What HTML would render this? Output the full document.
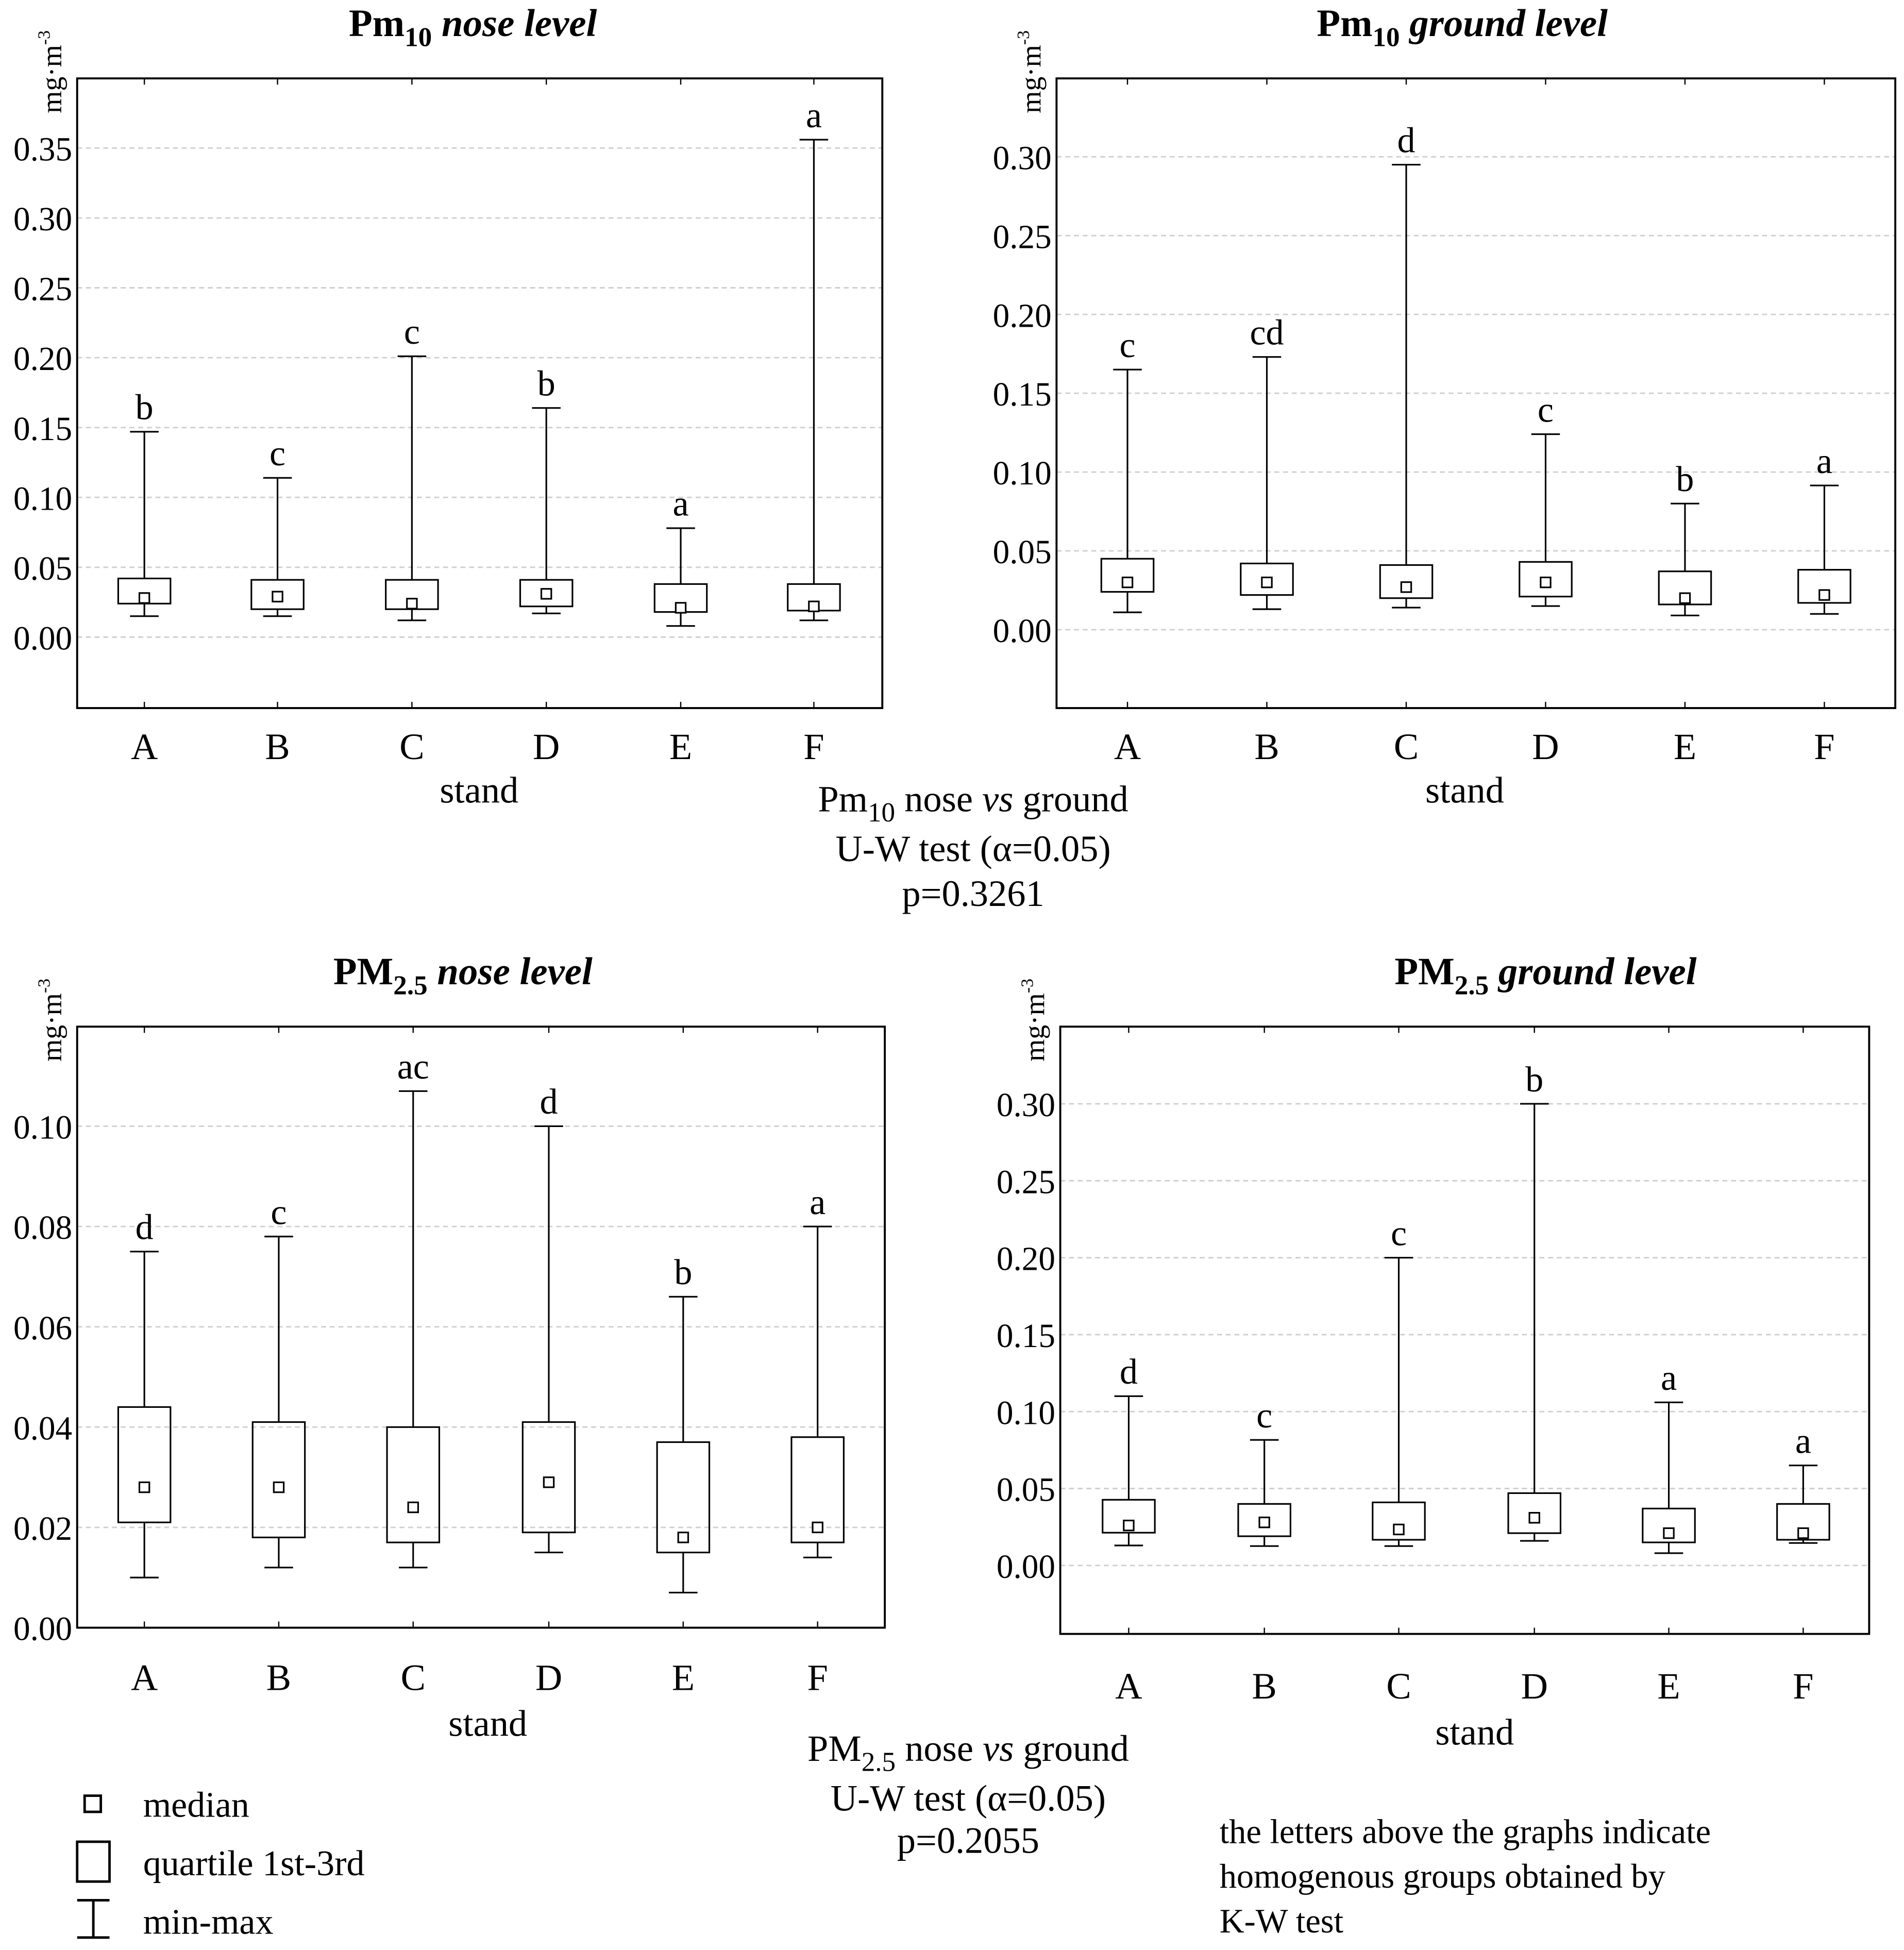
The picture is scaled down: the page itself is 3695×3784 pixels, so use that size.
<!DOCTYPE html>
<html><head><meta charset="utf-8"><style>
html,body{margin:0;padding:0;background:#fff;}
svg{display:block;}
text{font-family:"Liberation Serif",serif;fill:#000;}
</style></head><body>
<svg id="fig" width="3695" height="3784" viewBox="0 0 1530 1567" preserveAspectRatio="none" xmlns="http://www.w3.org/2000/svg">
<rect width="1530" height="1567" fill="#fff"/>
<g id="titles" font-size="31">
<text x="380" y="29" text-anchor="middle" font-weight="bold">Pm<tspan font-size="22" dy="8">10</tspan><tspan dy="-8" font-style="italic">  nose level</tspan></text>
<text x="1175" y="29" text-anchor="middle" font-weight="bold">Pm<tspan font-size="22" dy="8">10</tspan><tspan dy="-8" font-style="italic">  ground level</tspan></text>
<text x="372" y="791" text-anchor="middle" font-weight="bold">PM<tspan font-size="22" dy="8">2.5</tspan><tspan dy="-8" font-style="italic">  nose level</tspan></text>
<text x="1242" y="791" text-anchor="middle" font-weight="bold">PM<tspan font-size="22" dy="8">2.5</tspan><tspan dy="-8" font-style="italic">  ground level</tspan></text>
</g>
<g font-size="30">
<text x="782" y="652" text-anchor="middle">Pm<tspan font-size="22" dy="8">10</tspan><tspan dy="-8"> nose </tspan><tspan font-style="italic">vs</tspan> ground</text>
<text x="782" y="692" text-anchor="middle">U-W test (α=0.05)</text>
<text x="782" y="728" text-anchor="middle">p=0.3261</text>
<text x="778" y="1415" text-anchor="middle">PM<tspan font-size="22" dy="8">2.5</tspan><tspan dy="-8"> nose </tspan><tspan font-style="italic">vs</tspan> ground</text>
<text x="778" y="1455" text-anchor="middle">U-W test (α=0.05)</text>
<text x="778" y="1489" text-anchor="middle">p=0.2055</text>
<g font-size="27.5">
<text x="980" y="1481">the letters above the graphs indicate</text>
<text x="980" y="1517">homogenous groups obtained by</text>
<text x="980" y="1553">K-W test</text>
</g>
</g>
<g font-size="29">
<rect x="68" y="1443" width="13" height="13" fill="none" stroke="#000" stroke-width="2"/>
<text x="115" y="1460">median</text>
<rect x="62" y="1480" width="26" height="32" fill="none" stroke="#000" stroke-width="2"/>
<text x="115" y="1507">quartile 1st-3rd</text>
<path d="M62 1527H88M75 1527V1557M62 1557H88" fill="none" stroke="#000" stroke-width="2"/>
<text x="115" y="1554">min-max</text>
</g>
<g id="panels"></g>
</svg>
<script>
const categories = ["A","B","C","D","E","F"];
// Pm10 nose level
const p10nMin = [0.015,0.015,0.012,0.017,0.008,0.012];
const p10nQ1  = [0.024,0.020,0.020,0.022,0.018,0.019];
const p10nMed = [0.028,0.029,0.024,0.031,0.021,0.022];
const p10nQ3  = [0.042,0.041,0.041,0.041,0.038,0.038];
const p10nMax = [0.147,0.114,0.201,0.164,0.078,0.356];
const p10nGroups = ["b","c","c","b","a","a"];
const p10nTicks = [0,0.05,0.10,0.15,0.20,0.25,0.30,0.35];
// Pm10 ground level
const p10gMin = [0.011,0.013,0.014,0.015,0.009,0.010];
const p10gQ1  = [0.024,0.022,0.020,0.021,0.016,0.017];
const p10gMed = [0.030,0.030,0.027,0.030,0.020,0.022];
const p10gQ3  = [0.045,0.042,0.041,0.043,0.037,0.038];
const p10gMax = [0.165,0.173,0.295,0.124,0.080,0.0915];
const p10gGroups = ["c","cd","d","c","b","a"];
const p10gTicks = [0,0.05,0.10,0.15,0.20,0.25,0.30];
// PM2.5 nose level
const p25nMin = [0.010,0.012,0.012,0.015,0.007,0.014];
const p25nQ1  = [0.021,0.018,0.017,0.019,0.015,0.017];
const p25nMed = [0.028,0.028,0.024,0.029,0.018,0.020];
const p25nQ3  = [0.044,0.041,0.040,0.041,0.037,0.038];
const p25nMax = [0.075,0.078,0.107,0.100,0.066,0.080];
const p25nGroups = ["d","c","ac","d","b","a"];
const p25nTicks = [0,0.02,0.04,0.06,0.08,0.10];
// PM2.5 ground level
const p25gMin = [0.013,0.0126,0.0126,0.016,0.008,0.0146];
const p25gQ1  = [0.0213,0.019,0.0167,0.021,0.015,0.0167];
const p25gMed = [0.026,0.028,0.0234,0.031,0.021,0.021];
const p25gQ3  = [0.0427,0.040,0.041,0.047,0.037,0.040];
const p25gMax = [0.110,0.0816,0.200,0.300,0.106,0.065];
const p25gGroups = ["d","c","c","b","a","a"];
const p25gTicks = [0,0.05,0.10,0.15,0.20,0.25,0.30];

const NS="http://www.w3.org/2000/svg";
const root=document.getElementById('panels');
function mk(tag,attrs,parent){const e=document.createElementNS(NS,tag);for(const k in attrs)e.setAttribute(k,attrs[k]);parent.appendChild(e);return e;}

function drawPanel(cfg,mins,q1s,meds,q3s,maxs,groups,ticks){
  const g=mk('g',{},root);
  
  
  const y=v=>cfg.y0+(cfg.yRef-cfg.y0)*(v/cfg.vRef);
  const x=i=>cfg.cats[i];
  ticks.forEach(t=>{
    const yy=y(t);
    const gl=mk('line',{x1:cfg.L,x2:cfg.R,y1:yy,y2:yy,stroke:'#cfcfcf','stroke-width':1.2,'stroke-dasharray':'4,3'},g);
    
    
    const tl=mk('text',{x:cfg.L-4,y:yy+10,'text-anchor':'end','font-size':27},g);
    tl.textContent=t.toFixed(2);
    
    
  });
  const fr=mk('rect',{x:cfg.L,y:cfg.T,width:cfg.R-cfg.L,height:cfg.B-cfg.T,fill:'none',stroke:'#000','stroke-width':1.6},g);
  
  
  const un=mk('text',{transform:`translate(${cfg.L-13},${cfg.T+28}) rotate(-90)`,'font-size':23},g);
  un.innerHTML='mg·m<tspan font-size="14" dy="-9">-3</tspan>';
  
  
  categories.forEach((c,i)=>{
    const cx=x(i);
    mk('line',{x1:cx,x2:cx,y1:cfg.B,y2:cfg.B-5,stroke:'#000','stroke-width':1},g);
    mk('line',{x1:cx,x2:cx,y1:cfg.T,y2:cfg.T+5,stroke:'#000','stroke-width':1},g);
    const xl=mk('text',{x:cx,y:cfg.xLabY,'text-anchor':'middle','font-size':30},g);
    xl.textContent=c;
    
    
    const bx=mk('g',{},g);
    
    
    const w=21, cap=11.5;
    mk('path',{d:`M${cx} ${y(q3s[i])}V${y(maxs[i])}M${cx-cap} ${y(maxs[i])}H${cx+cap}M${cx} ${y(q1s[i])}V${y(mins[i])}M${cx-cap} ${y(mins[i])}H${cx+cap}`,stroke:'#000','stroke-width':1.3,fill:'none'},bx);
    mk('rect',{x:cx-w,y:y(q3s[i]),width:2*w,height:y(q1s[i])-y(q3s[i]),fill:'none',stroke:'#000','stroke-width':1.3},bx);
    mk('rect',{x:cx-4,y:y(meds[i])-4,width:8,height:8,fill:'#fff',stroke:'#000','stroke-width':1.3},bx);
    const lt=mk('text',{x:cx,y:y(maxs[i])-10,'text-anchor':'middle','font-size':29},g);
    lt.textContent=groups[i];
    
    
  });
  const st=mk('text',{x:cfg.standX,y:cfg.standY,'text-anchor':'middle','font-size':30},g);
  st.textContent='stand';
  
  
}

drawPanel({name:'panel-pm10-nose',L:62,R:709,T:63,B:569,y0:512,yRef:119,vRef:0.35,
  cats:[116,223,331,439,547,654],xLabY:610,standX:385,standY:645},
  p10nMin,p10nQ1,p10nMed,p10nQ3,p10nMax,p10nGroups,p10nTicks);
drawPanel({name:'panel-pm10-ground',L:849,R:1523,T:63,B:569,y0:506,yRef:126,vRef:0.30,
  cats:[906,1018,1130,1242,1354,1466],xLabY:610,standX:1177,standY:645},
  p10gMin,p10gQ1,p10gMed,p10gQ3,p10gMax,p10gGroups,p10gTicks);
drawPanel({name:'panel-pm25-nose',L:62,R:711,T:825,B:1308,y0:1308,yRef:905,vRef:0.10,
  cats:[116,224,332,441,549,657],xLabY:1358,standX:392,standY:1395},
  p25nMin,p25nQ1,p25nMed,p25nQ3,p25nMax,p25nGroups,p25nTicks);
drawPanel({name:'panel-pm25-ground',L:852,R:1502,T:825,B:1313,y0:1258,yRef:887,vRef:0.30,
  cats:[907,1016,1124,1233,1341,1449],xLabY:1365,standX:1185,standY:1402},
  p25gMin,p25gQ1,p25gMed,p25gQ3,p25gMax,p25gGroups,p25gTicks);
</script>
</body></html>
